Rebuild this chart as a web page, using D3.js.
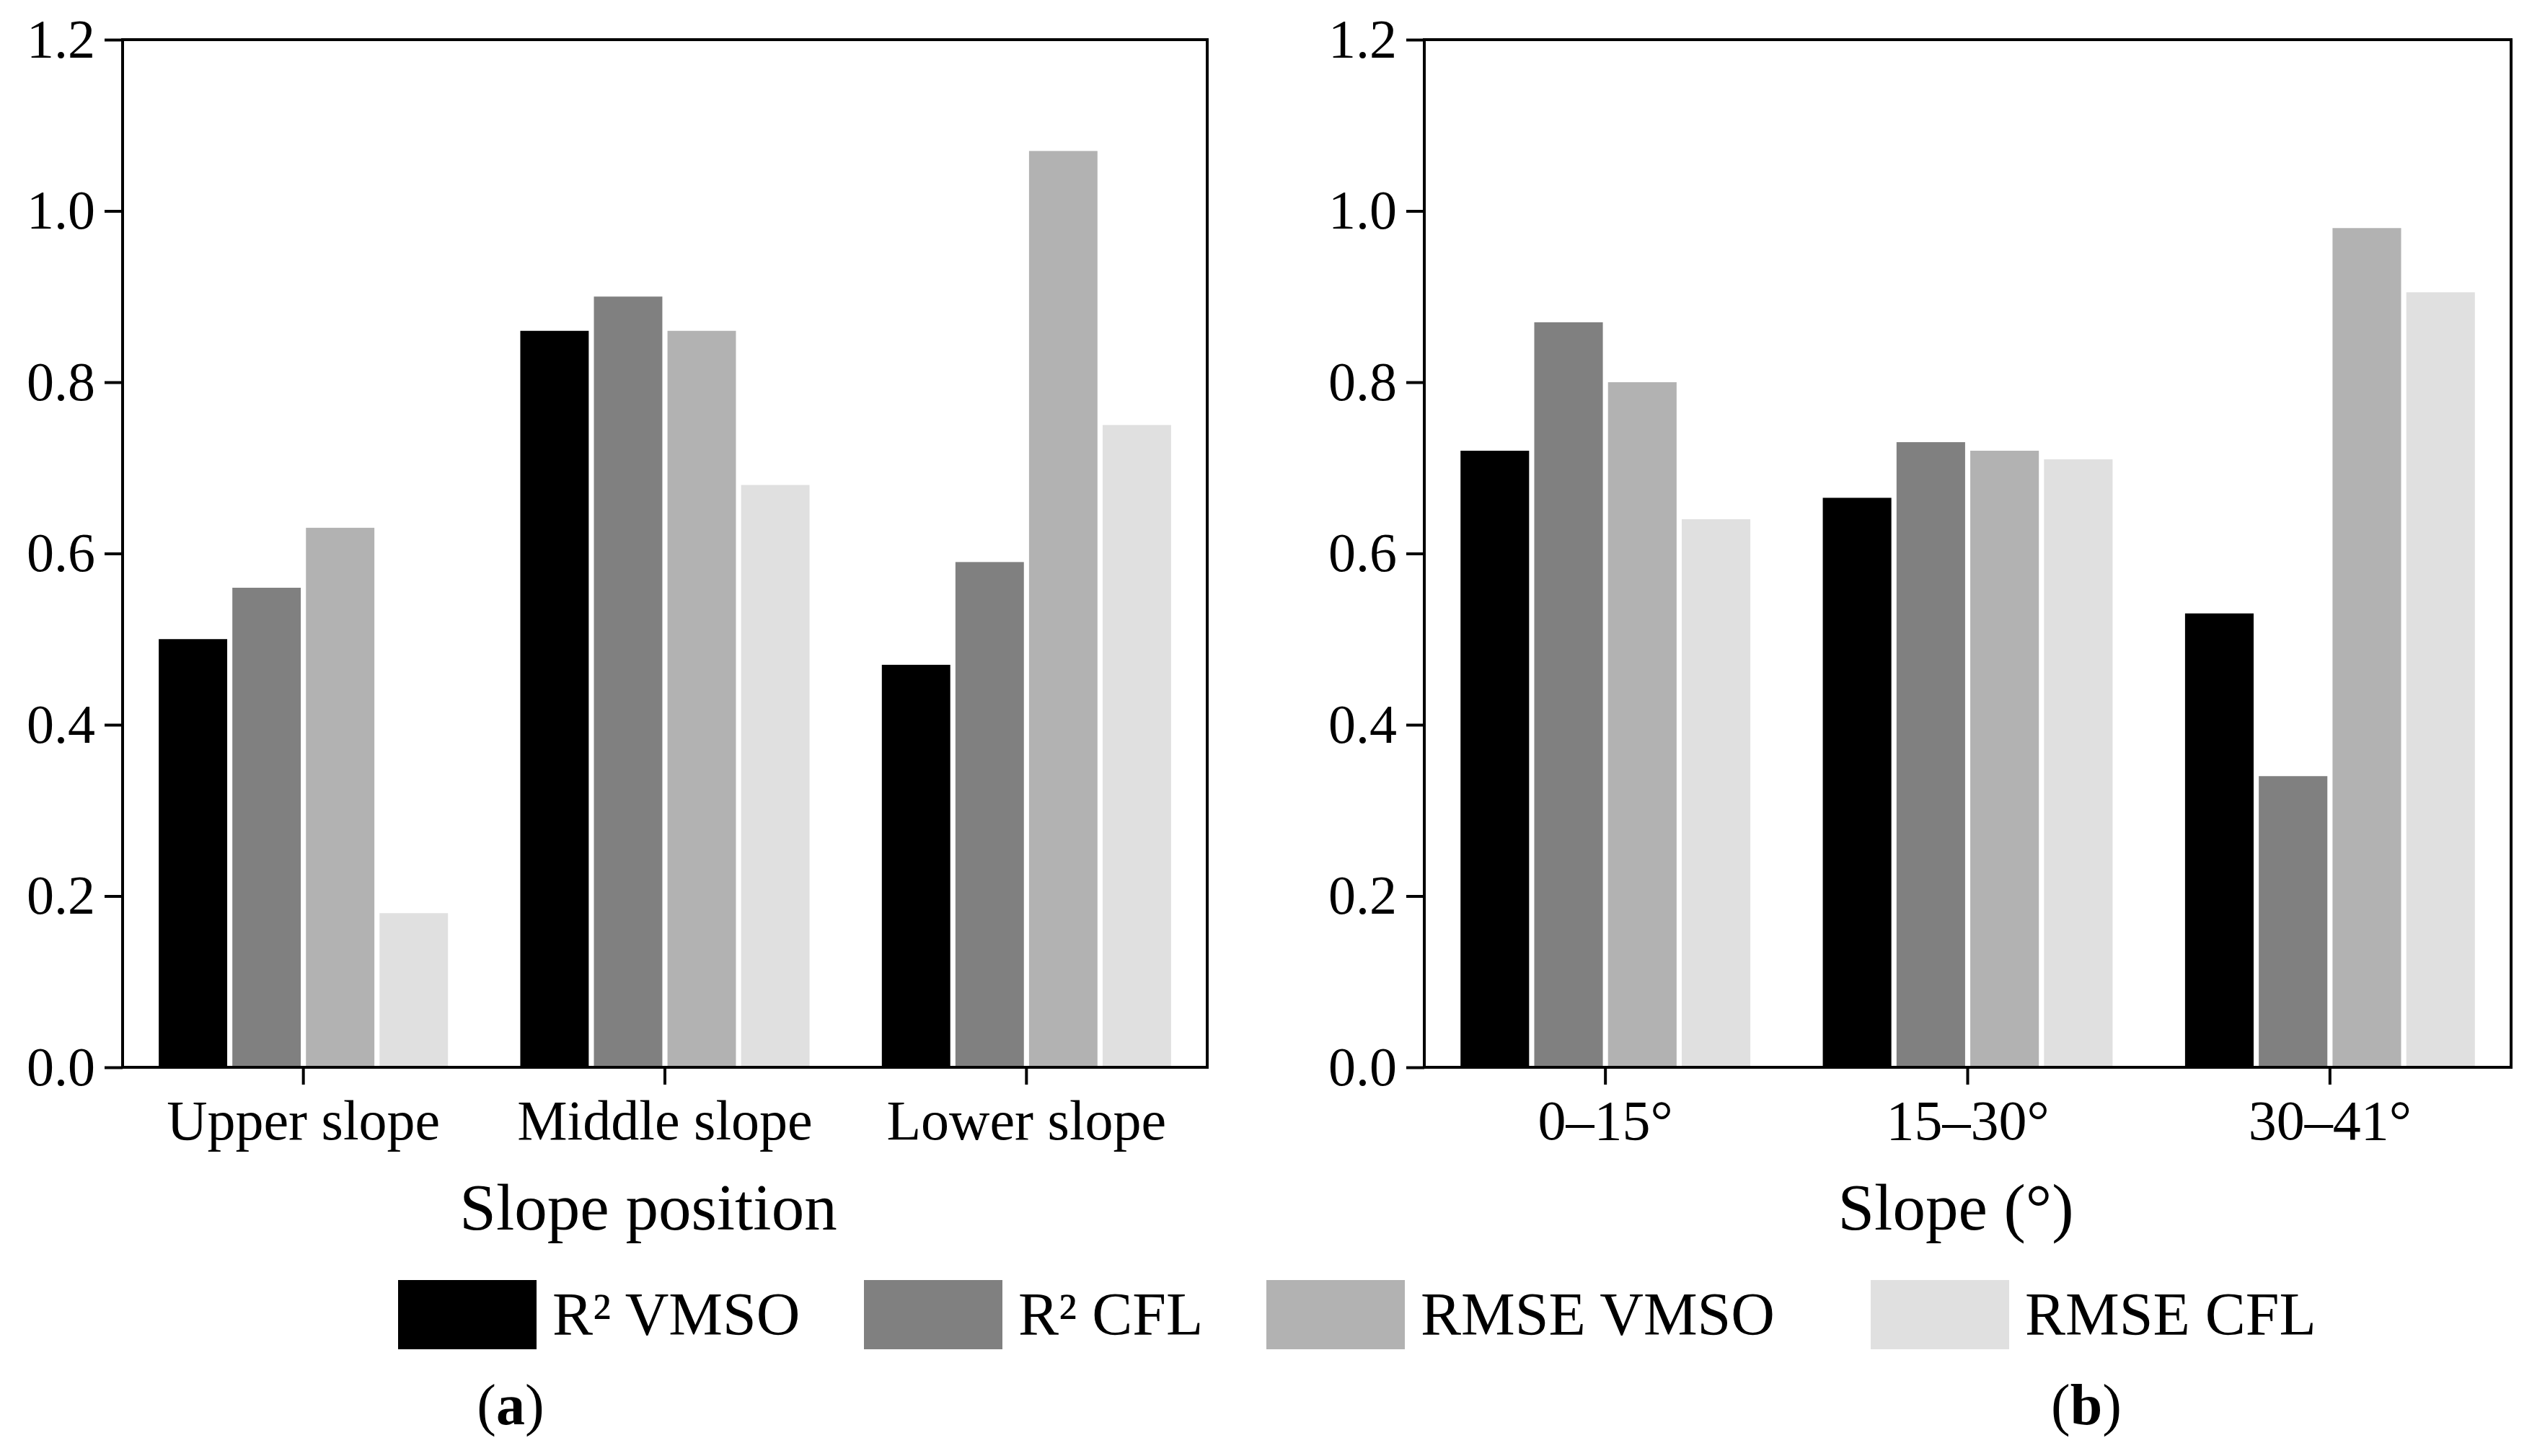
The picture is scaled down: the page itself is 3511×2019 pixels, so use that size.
<!DOCTYPE html>
<html>
<head>
<meta charset="utf-8">
<script src="https://cdn.jsdelivr.net/npm/d3@7"></script>
<style>
  body { margin: 0; background: #fff; }
  text { font-family: "Liberation Serif", "Times New Roman", serif; fill: #000; }
</style>
</head>
<body>
<svg id="chart" width="3511" height="2019"></svg>
<script>
// series names and colours (legend order)
var series = ["R² VMSO", "R² CFL", "RMSE VMSO", "RMSE CFL"];
var colors = ["#000000", "#808080", "#b2b2b2", "#e0e0e0"];

// panel (a): slope position
var positions = ["Upper slope", "Middle slope", "Lower slope"];
var r2VmsoA = [0.50, 0.86, 0.47];
var r2CflA = [0.56, 0.90, 0.59];
var rmseVmsoA = [0.63, 0.86, 1.07];
var rmseCflA = [0.18, 0.68, 0.75];

// panel (b): slope classes
var slopes = ["0–15°", "15–30°", "30–41°"];
var r2VmsoB = [0.72, 0.665, 0.53];
var r2CflB = [0.87, 0.73, 0.34];
var rmseVmsoB = [0.80, 0.72, 0.98];
var rmseCflB = [0.64, 0.71, 0.905];

var yTicks = [0, 0.2, 0.4, 0.6, 0.8, 1.0, 1.2];

var svg = d3.select("#chart");
var plotTop = 55, plotBottom = 1480;

//draws one panel
var build_panel = function(left, right, cats, values, title, titleX, letter, letterX){
  var g = svg.append("g");

  var x0 = d3.scaleBand().domain(cats).range([left, right]).padding(0);
  var bw = x0.bandwidth();
  var x1 = d3.scaleBand().domain(series).range([bw * 0.1, bw * 0.9]).paddingInner(0.07);
  var y = d3.scaleLinear().domain([0, 1.2]).range([plotBottom, plotTop]);

  // bars
  cats.forEach(function(c, i){
    var grp = g.append("g").attr("transform", "translate(" + x0(c) + ",0)");
    grp.selectAll("rect")
       .data(series.map(function(s, j){ return {s: s, v: values[j][i], color: colors[j]}; }))
       .enter().append("rect")
       .attr("x", function(d){ return x1(d.s); })
       .attr("width", x1.bandwidth())
       .attr("y", function(d){ return y(d.v); })
       .attr("height", function(d){ return y(0) - y(d.v); })
       .attr("fill", function(d){ return d.color; });
  });

  // y axis
  var yAxis = g.append("g")
    .attr("transform", "translate(" + left + ",0)")
    .call(d3.axisLeft(y).tickValues(yTicks).tickFormat(d3.format(".1f")).tickSize(25).tickPadding(13));
  yAxis.select(".domain").remove();
  yAxis.selectAll("line").attr("stroke", "#000").attr("stroke-width", 4);
  yAxis.selectAll("text").attr("font-size", 76).attr("font-family", "Liberation Serif");

  // x axis
  var xAxis = g.append("g")
    .attr("transform", "translate(0," + plotBottom + ")")
    .call(d3.axisBottom(x0).tickSize(24).tickPadding(21));
  xAxis.select(".domain").remove();
  xAxis.selectAll("line").attr("stroke", "#000").attr("stroke-width", 4);
  xAxis.selectAll("text").attr("font-size", 78).attr("font-family", "Liberation Serif");

  // frame
  g.append("rect")
    .attr("x", left).attr("y", plotTop)
    .attr("width", right - left).attr("height", plotBottom - plotTop)
    .attr("fill", "none").attr("stroke", "#000").attr("stroke-width", 4);

  // axis title
  g.append("text")
    .attr("x", titleX).attr("y", 1705)
    .attr("text-anchor", "middle")
    .attr("font-size", 91)
    .text(title);

  // panel letter
  var lt = g.append("text")
    .attr("x", letterX).attr("y", 1975)
    .attr("text-anchor", "middle")
    .attr("font-size", 80);
  lt.append("tspan").text("(");
  lt.append("tspan").attr("font-weight", "bold").text(letter);
  lt.append("tspan").text(")");
};

build_panel(170, 1674, positions, [r2VmsoA, r2CflA, rmseVmsoA, rmseCflA], "Slope position", 899, "a", 708);
build_panel(1975, 3482, slopes, [r2VmsoB, r2CflB, rmseVmsoB, rmseCflB], "Slope (°)", 2712, "b", 2893);

// legend
var legendX = [552, 1198, 1756, 2594];
var legend = svg.append("g");
series.forEach(function(s, i){
  legend.append("rect")
    .attr("x", legendX[i]).attr("y", 1775)
    .attr("width", 192).attr("height", 96)
    .attr("fill", colors[i]);
  legend.append("text")
    .attr("x", legendX[i] + 214).attr("y", 1851)
    .attr("font-size", 84)
    .text(s);
});
</script>
</body>
</html>
